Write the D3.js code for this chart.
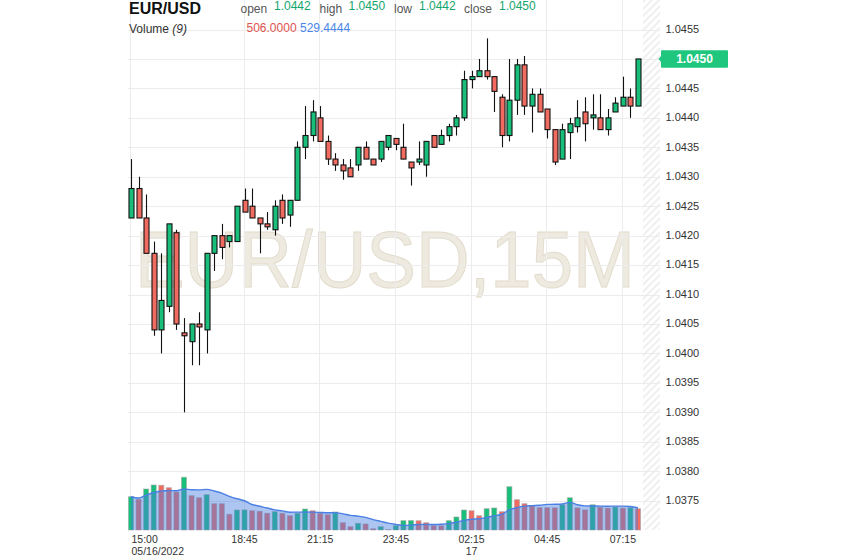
<!DOCTYPE html>
<html><head><meta charset="utf-8">
<script src="https://cdn.jsdelivr.net/npm/d3@7"></script>
<style>
body{margin:0;background:#fff;}
svg{display:block;font-family:"Liberation Sans",Arial,Helvetica,sans-serif;}
</style>
</head><body>
<svg id="chart" width="843" height="558"></svg>
<script>
// ---------- data ----------
const symbol = "EUR/USD";
const watermark = "EUR/USD,15M";
const times = [
 "15:00","15:15","15:30","15:45","16:00","16:15","16:30","16:45","17:00","17:15","17:30","17:45",
 "18:00","18:15","18:30","18:45","19:00","19:15","19:30","19:45","20:00","20:15","20:30","20:45",
 "21:00","21:15","21:30","21:45","22:00","22:15","22:30","22:45","23:00","23:15","23:30","23:45",
 "00:00","00:15","00:30","00:45","01:00","01:15","01:30","01:45","02:00","02:15","02:30","02:45",
 "03:00","03:15","03:30","03:45","04:00","04:15","04:30","04:45","05:00","05:15","05:30","05:45",
 "06:00","06:15","06:30","06:45","07:00","07:15","07:30","07:45"];
const openV = [
 1.0423,1.0428,1.0423,1.0417,1.0404,1.0408,1.04205,1.04035,1.0402,1.0405,1.0404,1.0417,
 1.0420,1.0419,1.0419,1.0426,1.0425,1.0423,1.0422,1.0421,1.0426,1.04235,1.0426,1.0435,
 1.0437,1.0440,1.0436,1.0433,1.0432,1.04315,1.0432,1.0435,1.0433,1.0433,1.0435,1.04365,
 1.0435,1.04325,1.04325,1.0432,1.0437,1.04355,1.0437,1.04385,1.0440,1.04465,1.0447,1.0448,
 1.0447,1.04435,1.0437,1.0443,1.0449,1.0442,1.0444,1.04415,1.0438,1.0433,1.04375,1.04385,
 1.0441,1.0440,1.0440,1.0438,1.0441,1.0442,1.04435,1.0442];
const highV = [
 1.0433,1.0430,1.0427,1.0419,1.0417,1.0422,1.0421,1.0406,1.0405,1.0407,1.0417,1.0420,
 1.0422,1.0420,1.0425,1.0428,1.0428,1.0423,1.0424,1.0426,1.0427,1.0426,1.0436,1.0442,
 1.0443,1.0442,1.0437,1.0434,1.0433,1.0433,1.0435,1.0436,1.0433,1.0436,1.0437,1.04365,
 1.0439,1.04325,1.0436,1.0436,1.0437,1.0438,1.0439,1.04405,1.0448,1.0448,1.0450,1.04535,
 1.0447,1.0444,1.0450,1.0450,1.04505,1.0445,1.0445,1.04415,1.0438,1.0439,1.0440,1.0443,
 1.04435,1.0444,1.0444,1.04415,1.04435,1.0447,1.0445,1.0450];
const lowV = [
 1.0423,1.0423,1.0417,1.0403,1.0400,1.0407,1.0404,1.0390,1.0398,1.0398,1.0400,1.0414,
 1.0416,1.0418,1.0419,1.0424,1.0423,1.0417,1.0421,1.0420,1.0422,1.04215,1.0426,1.0433,
 1.0436,1.0436,1.0432,1.0431,1.04295,1.0430,1.0431,1.0433,1.0432,1.04325,1.04345,1.04345,
 1.0433,1.04285,1.0432,1.0430,1.0435,1.04355,1.0436,1.0437,1.04395,1.0445,1.0447,1.04465,
 1.0441,1.0435,1.0436,1.04405,1.04405,1.04375,1.0441,1.04365,1.0432,1.0433,1.0433,1.04375,
 1.0436,1.0438,1.0438,1.0437,1.0441,1.0442,1.0440,1.0442];
const closeV = [
 1.0428,1.0423,1.0417,1.0404,1.0409,1.0422,1.0405,1.0403,1.0405,1.04045,1.0417,1.0420,
 1.0418,1.0420,1.0425,1.0424,1.0423,1.0422,1.04215,1.0425,1.0423,1.0426,1.0435,1.0437,
 1.0441,1.0436,1.0433,1.0432,1.0431,1.0430,1.0435,1.0433,1.0432,1.0436,1.0437,1.04355,
 1.0433,1.04315,1.0433,1.0436,1.0435,1.0437,1.04385,1.0440,1.04465,1.0447,1.0448,1.0447,
 1.04445,1.0437,1.0443,1.0449,1.0442,1.0444,1.0441,1.0438,1.04325,1.0438,1.0439,1.0440,
 1.0439,1.04405,1.0438,1.0440,1.04425,1.04435,1.0442,1.0450];
const volumeV = [
 791,729,974,1069,1062,1005,903,1252,815,767,839,625,
 624,373,475,478,458,444,397,435,397,340,397,499,
 458,397,364,428,173,79,158,143,30,79,8,103,
 222,225,220,173,102,100,222,309,475,458,340,506,
 523,435,1029,720,625,570,532,530,528,601,767,525,
 479,600,540,520,545,520,530,506];
const priceTicks = [1.0455,1.0450,1.0445,1.0440,1.0435,1.0430,1.0425,1.0420,1.0415,1.0410,
                    1.0405,1.0400,1.0395,1.0390,1.0385,1.0380,1.0375];
const timeTicks = ["15:00","18:45","21:15","23:45","02:15","04:45","07:15"];
const timeSubLabels = ["05/16/2022","","","","17","",""];
const smaPeriod = 9;

// ---------- style ----------
const UP = "#17bf7a", DOWN = "#f26b60";
const GRID = "#ececec";

const svg = d3.select("#chart");
const defs = svg.append("defs");
const pat = defs.append("pattern").attr("id","hatch").attr("width",5).attr("height",5)
  .attr("patternUnits","userSpaceOnUse").attr("patternTransform","rotate(45)");
pat.append("line").attr("x1",1).attr("y1",0).attr("x2",1).attr("y2",5)
  .attr("stroke","#ebebeb").attr("stroke-width",1.6);

const x = d3.scalePoint().domain(times).range([131, 638]);
const step = x.step();
const y = d3.scaleLinear().domain([1.0375, 1.0455]).range([500.7, 29.5]);
const yVol = d3.scaleLinear().domain([0, 1252]).range([530, 477.3]);
const plotTop = 0, plotBottom = 530, plotLeft = 128, plotRight = 660;

const data = times.map((t,i)=>({t, o:openV[i], h:highV[i], l:lowV[i], c:closeV[i], v:volumeV[i]}));
data.forEach((d,i)=>{
  const s = Math.max(0, i-smaPeriod+1);
  d.sma = d3.mean(volumeV.slice(s, i+1));
  d.volUp = i===0 ? true : d.v >= volumeV[i-1];
});
const last = data[data.length-1];
const py = y(last.c);

// watermark
svg.append("text").attr("x",135).attr("y",286.5)
  .attr("textLength",500).attr("lengthAdjust","spacingAndGlyphs")
  .attr("font-size",79).attr("fill","#eeeae0").attr("stroke","#e2dccd").attr("stroke-width",1)
  .text(watermark);

// grid
const g = svg.append("g");
g.selectAll("line.h").data(priceTicks).join("line")
  .attr("x1",plotLeft).attr("x2",plotRight)
  .attr("y1",d=>Math.round(y(d))+0.5).attr("y2",d=>Math.round(y(d))+0.5)
  .attr("stroke",GRID).attr("stroke-width",1);
g.selectAll("line.v").data(timeTicks).join("line")
  .attr("x1",d=>Math.round(x(d))-0.5).attr("x2",d=>Math.round(x(d))-0.5)
  .attr("y1",plotTop).attr("y2",plotBottom)
  .attr("stroke",GRID).attr("stroke-width",1);

// hatch (future area)
const hx0 = x(times[times.length-1]) + step*0.65;
svg.append("rect").attr("x",hx0).attr("y",plotTop).attr("width",plotRight-hx0).attr("height",plotBottom-plotTop)
  .attr("fill","url(#hatch)");

// volume bars
svg.append("g").selectAll("rect").data(data).join("rect")
  .attr("x",d=>x(d.t)-2.5).attr("width",5)
  .attr("y",d=>yVol(d.v)).attr("height",d=>yVol(0)-yVol(d.v))
  .attr("fill",d=>d.volUp?UP:DOWN)
  .attr("stroke","rgba(160,160,160,0.55)").attr("stroke-width",1);

// SMA area + line
const area = d3.area().x(d=>x(d.t)).y0(yVol(0)).y1(d=>yVol(d.sma)).curve(d3.curveMonotoneX);
const line = d3.line().x(d=>x(d.t)).y(d=>yVol(d.sma)).curve(d3.curveMonotoneX);
svg.append("path").datum(data).attr("d",area).attr("fill","rgba(74,127,224,0.45)");
svg.append("path").datum(data).attr("d",line).attr("fill","none").attr("stroke","#4a7fe3").attr("stroke-width",1.4);

// candles
const cg = svg.append("g");
cg.selectAll("line").data(data).join("line")
  .attr("x1",d=>Math.round(x(d.t))+0.5).attr("x2",d=>Math.round(x(d.t))+0.5)
  .attr("y1",d=>y(d.h)).attr("y2",d=>y(d.l))
  .attr("stroke","#111").attr("stroke-width",1.1);
cg.selectAll("rect").data(data).join("rect")
  .attr("x",d=>Math.round(x(d.t))-2)
  .attr("width",5)
  .attr("y",d=>y(Math.max(d.o,d.c)))
  .attr("height",d=>Math.max(1.5, y(Math.min(d.o,d.c))-y(Math.max(d.o,d.c))))
  .attr("fill",d=>d.c>=d.o?UP:DOWN)
  .attr("stroke","#111").attr("stroke-width",1.1);

// y axis labels (the one under the current-price tag is hidden, as in the reference)
svg.append("g").selectAll("text").data(priceTicks.filter(d=>Math.abs(y(d)-py)>12)).join("text")
  .attr("x",665.5).attr("y",d=>y(d)).attr("dy","0.3em")
  .attr("font-size",11).attr("fill","#333")
  .text(d=>d3.format(".4f")(d));

// current price label
svg.append("path").attr("d",`M658.5,${py} L661.5,${py-3.5} L661.5,${py+3.5} Z`).attr("fill","#1fc77e");
svg.append("rect").attr("x",661).attr("y",py-8.8).attr("width",67).attr("height",17.6).attr("rx",1).attr("fill","#1fc77e");
svg.append("text").attr("x",694.5).attr("y",py).attr("dy","0.36em").attr("text-anchor","middle")
  .attr("font-size",12).attr("font-weight","bold").attr("fill","#fff").text(d3.format(".4f")(last.c));

// x axis labels
const xl = svg.append("g");
timeTicks.forEach((t,i)=>{
  const first = i===0;
  const tx = first ? x(t)+0.5 : x(t);
  const anchor = first ? "start" : "middle";
  xl.append("text").attr("x",tx).attr("y",543).attr("text-anchor",anchor)
    .attr("font-size",10.5).attr("fill","#333").text(t);
  if (timeSubLabels[i]) xl.append("text").attr("x",tx).attr("y",555).attr("text-anchor",anchor)
    .attr("font-size",10.5).attr("fill","#333").text(timeSubLabels[i]);
});

// header
svg.append("text").attr("x",129).attr("y",14).attr("font-size",16).attr("font-weight","bold").attr("fill","#111").text(symbol);
const fmt = d3.format(".4f");
const hdr = [["open",last.o,240.5,274],["high",last.h,319.5,348.5],["low",last.l,394,419],["close",last.c,464,499]];
hdr.forEach(([lab,val,lx,vx])=>{
  svg.append("text").attr("x",lx).attr("y",13).attr("font-size",12).attr("fill","#555").text(lab);
  svg.append("text").attr("x",vx).attr("y",10).attr("font-size",12).attr("fill","#14a56c").text(fmt(val));
});
const vt = svg.append("text").attr("x",129).attr("y",33).attr("font-size",12).attr("fill","#333");
vt.append("tspan").text("Volume ");
vt.append("tspan").attr("font-style","italic").text(`(${smaPeriod})`);
svg.append("text").attr("x",246.5).attr("y",32).attr("font-size",12)
  .attr("fill", last.volUp ? UP : "#e0524d").text(fmt(last.v));
svg.append("text").attr("x",300).attr("y",32).attr("font-size",12).attr("fill","#4a86e8").text(fmt(last.sma));
</script>
</body></html>
